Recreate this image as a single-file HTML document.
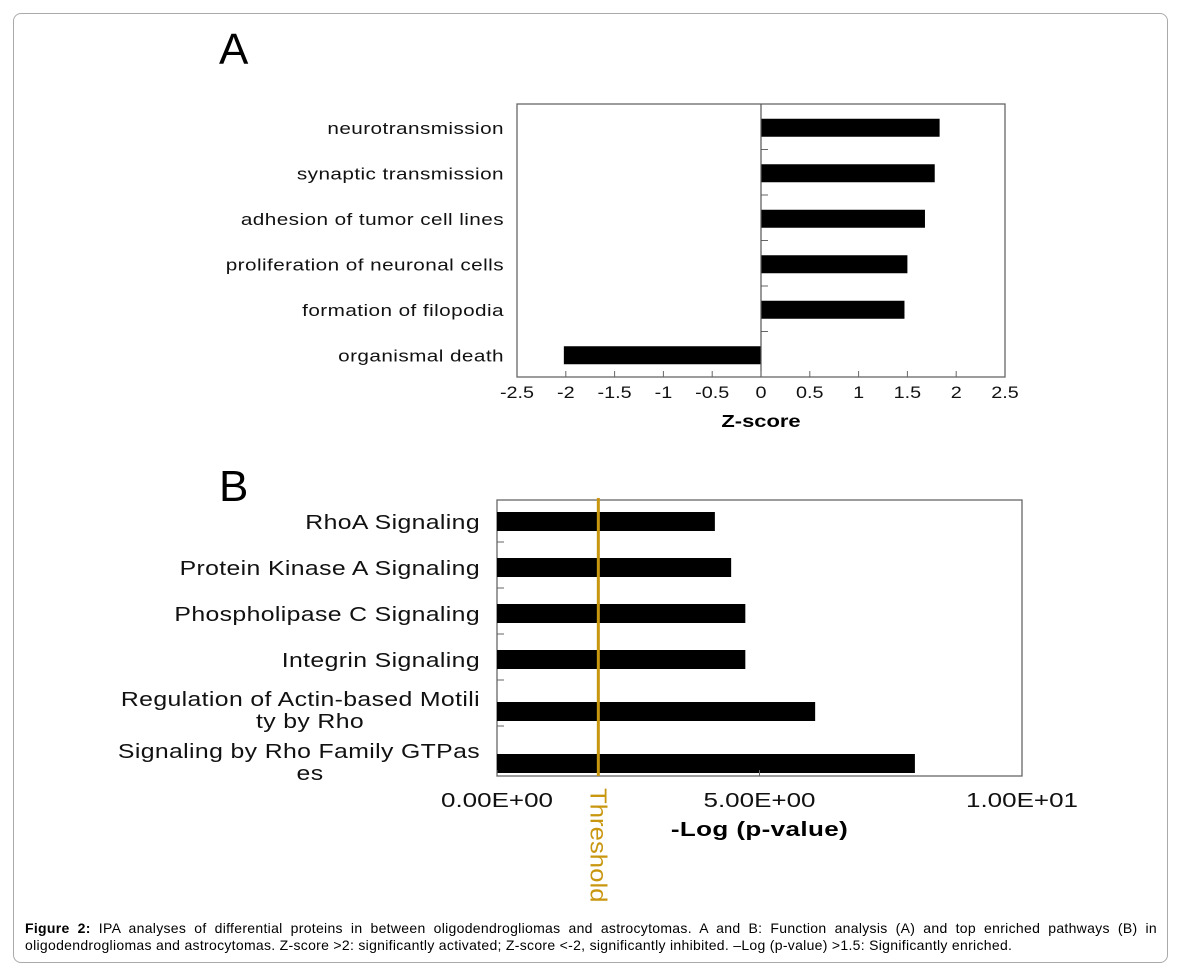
<!DOCTYPE html>
<html><head><meta charset="utf-8"><style>
body{margin:0;background:#fff;width:1181px;height:974px;overflow:hidden;font-family:"Liberation Sans",Arial,sans-serif}
#frame{position:absolute;left:13px;top:13px;width:1153px;height:948px;border:1px solid #aaa;border-radius:8px}
#cap{position:absolute;left:25px;top:920px;width:1132px;font-size:14px;letter-spacing:0.3px;line-height:17px;text-align:justify;color:#000}
</style></head><body>
<div id="frame"></div>
<svg id="chart" width="1181" height="974" style="position:absolute;left:0;top:0" font-family="Liberation Sans, Arial, sans-serif"></svg>
<div id="cap"><b>Figure 2:</b> IPA analyses of differential proteins in between oligodendrogliomas and astrocytomas. A and B: Function analysis (A) and top enriched pathways (B) in oligodendrogliomas and astrocytomas. Z-score &gt;2: significantly activated; Z-score &lt;-2, significantly inhibited. –Log (p-value) &gt;1.5: Significantly enriched.</div>
<script>
const catsA=["neurotransmission","synaptic transmission","adhesion of tumor cell lines","proliferation of neuronal cells","formation of filopodia","organismal death"];
const valsA=[1.83,1.78,1.68,1.50,1.47,-2.02];
const ticksA=[-2.5,-2,-1.5,-1,-0.5,0,0.5,1,1.5,2,2.5];
const catsB=[["RhoA Signaling"],["Protein Kinase A Signaling"],["Phospholipase C Signaling"],["Integrin Signaling"],["Regulation of Actin-based Motili","ty by Rho"],["Signaling by Rho Family GTPas","es"]];
const valsB=[4.15,4.46,4.73,4.73,6.06,7.96];
const ticksB=[0,5,10];
const tickLabelsB=["0.00E+00","5.00E+00","1.00E+01"];
const thresholdB=[1.93];

const svg=document.getElementById('chart');const NS="http://www.w3.org/2000/svg";
function mk(t,a,txt,name){const e=document.createElementNS(NS,t);for(const k in a)e.setAttribute(k,a[k]);if(txt!==undefined)e.textContent=txt;


svg.appendChild(e);return e;}
function tx(x,y,sx,a,txt,name){a.x=0;a.y=0;a.transform=`translate(${x},${y}) scale(${sx},1)`;return mk('text',a,txt,name);}
// Panel A
mk('text',{x:219,y:64,'font-size':44,'letter-spacing':2},'A','panel-a-label');
const aL=517,aR=1005,aT=104,aB=377;
const xA=v=>aL+(v+2.5)/5*(aR-aL);
const rowA=(aB-aT)/6;
mk('rect',{x:aL,y:aT,width:aR-aL,height:aB-aT,fill:'none',stroke:'#666','stroke-width':1.3},'panel-a-plot-frame');
catsA.forEach((c,i)=>{const cy=aT+rowA*(i+0.5)+1;const v=valsA[i];
mk('rect',{x:Math.min(xA(0),xA(v)),y:cy-9,width:Math.abs(xA(v)-xA(0)),height:18,fill:'#000'},'bar-a-'+i);
tx(504,cy+6,1.22,{'font-size':17,'letter-spacing':0.35,'text-anchor':'end',fill:'#111'},c,'category-label-a-'+i);
if(i<5)mk('line',{x1:xA(0),x2:xA(0)+7,y1:aT+rowA*(i+1),y2:aT+rowA*(i+1),stroke:'#666'},'y-tick-a-'+i);});
mk('line',{x1:xA(0),x2:xA(0),y1:aT,y2:aB,stroke:'#555','stroke-width':1.2},'zero-line');
ticksA.forEach((t,i)=>{mk('line',{x1:xA(t),x2:xA(t),y1:aB,y2:aB-6,stroke:'#666'},'x-tick-a-'+i);
tx(xA(t),aB+21,1.2,{'font-size':16.5,'text-anchor':'middle',fill:'#111'},String(t),'x-tick-label-a-'+i);});
tx(xA(0),427,1.22,{'font-size':18,'font-weight':'bold','text-anchor':'middle'},'Z-score','x-axis-title-a');
// Panel B
mk('text',{x:219,y:501,'font-size':44,'letter-spacing':2},'B','panel-b-label');
const bL=497,bR=1022,bT=500,bB=776;
const xB=v=>bL+v/10*(bR-bL);
const rowB=(bB-bT)/6;
mk('rect',{x:bL,y:bT,width:bR-bL,height:bB-bT,fill:'none',stroke:'#666','stroke-width':1.3},'panel-b-plot-frame');
catsB.forEach((c,i)=>{const cy=bT+rowB*(i+0.5)-1+(i>=4?i-3:0)*6;
mk('rect',{x:bL,y:cy-10,width:xB(valsB[i])-bL,height:19,fill:'#000'},'bar-b-'+i);
if(c.length===1)tx(480,cy+7,1.24,{'font-size':20,'letter-spacing':0.3,'text-anchor':'end',fill:'#111'},c[0],'category-label-b-'+i);
else{tx(480,cy-6,1.24,{'font-size':20,'letter-spacing':0.3,'text-anchor':'end',fill:'#111'},c[0],'category-label-b-'+i);
tx(310,cy+16,1.24,{'font-size':20,'letter-spacing':0.3,'text-anchor':'middle',fill:'#111'},c[1],'category-label-b-cont-'+i);}
if(i<5)mk('line',{x1:bL,x2:bL+7,y1:bT+rowB*(i+1)-4,y2:bT+rowB*(i+1)-4,stroke:'#666'},'y-tick-b-'+i);});
ticksB.forEach((t,i)=>{mk('line',{x1:xB(t),x2:xB(t),y1:bB,y2:bB-6,stroke:'#666'},'x-tick-b-'+i);
tx(xB(t),bB+31,1.3,{'font-size':20,'text-anchor':'middle',fill:'#111'},tickLabelsB[i],'x-tick-label-b-'+i);});
tx(xB(5),836,1.3,{'font-size':20,'letter-spacing':0.3,'font-weight':'bold','text-anchor':'middle'},'-Log (p-value)','x-axis-title-b');
const thx=xB(thresholdB[0]);
mk('line',{x1:thx,x2:thx,y1:498,y2:776,stroke:'#c9960f','stroke-width':3},'threshold-line');
mk('text',{x:0,y:0,'font-size':23,fill:'#c9960f',transform:`translate(${thx-8},788) rotate(90) scale(1.12,1)`},'Threshold','threshold-label');
</script>
</body></html>
